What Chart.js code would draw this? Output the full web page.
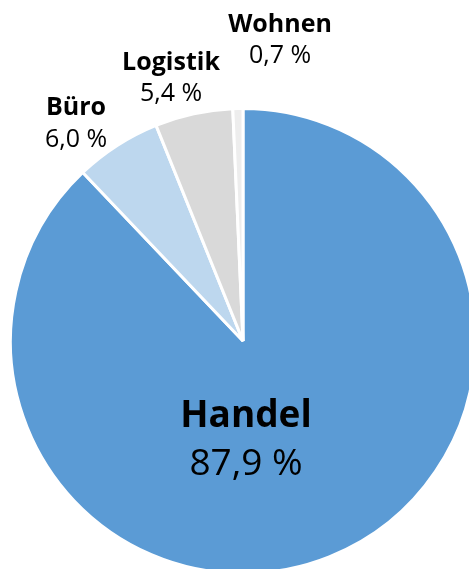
<!DOCTYPE html>
<html><head><meta charset="utf-8">
<script src="https://cdn.jsdelivr.net/npm/chart.js@4/dist/chart.umd.min.js"></script>
<style>
html,body{margin:0;padding:0;background:#fff;overflow:hidden;width:469px;height:569px}
#c{display:block}
</style></head>
<body>
<canvas id="c" width="480" height="600"></canvas>
<script>
const categories = ["Handel", "Büro", "Logistik", "Wohnen"];
const shares = [87.9, 6.0, 5.4, 0.7];
const shareLabels = ["87,9 %", "6,0 %", "5,4 %", "0,7 %"];
const colors = ["#5B9BD5", "#BDD7EE", "#D9D9D9", "#EDEDED"];

// label placement relative to pie centre (pixels): name line and value line
const labelPlacement = [
  {dx: 3, dyName: 75, dyValue: 123, size: 37},
  {dx: -167, dyName: -233, dyValue: -201, size: 25},
  {dx: -72, dyName: -278, dyValue: -247, size: 25},
  {dx: 37, dyName: -316, dyValue: -285, size: 25}
];

const labelPlugin = {
  id: 'pieLabels',
  afterDatasetsDraw(chart) {
    const ctx = chart.ctx;
    const arc0 = chart.getDatasetMeta(0).data[0];
    const cx = arc0.x, cy = arc0.y;
    ctx.save();
    ctx.fillStyle = '#000';
    ctx.textAlign = 'center';
    ctx.textBaseline = 'middle';
    categories.forEach((cat, i) => {
      const p = labelPlacement[i];
      ctx.font = 'bold ' + p.size + 'px "Open Sans"';
      ctx.fillText(cat, cx + p.dx, cy + p.dyName);
      ctx.font = p.size + 'px "Open Sans"';
      ctx.fillText(shareLabels[i], cx + p.dx, cy + p.dyValue);
    });
    ctx.restore();
  }
};

new Chart(document.getElementById('c'), {
  type: 'pie',
  data: {
    labels: categories,
    datasets: [{
      data: shares,
      backgroundColor: colors,
      borderColor: '#ffffff',
      borderWidth: 3,
      hoverOffset: 0,
      offset: 0
    }]
  },
  options: {
    responsive: false,
    animation: false,
    layout: {padding: {left: 9, top: 107, right: 3, bottom: 25}},
    plugins: {legend: {display: false}, tooltip: {enabled: false}}
  },
  plugins: [labelPlugin]
});
</script>
</body></html>
